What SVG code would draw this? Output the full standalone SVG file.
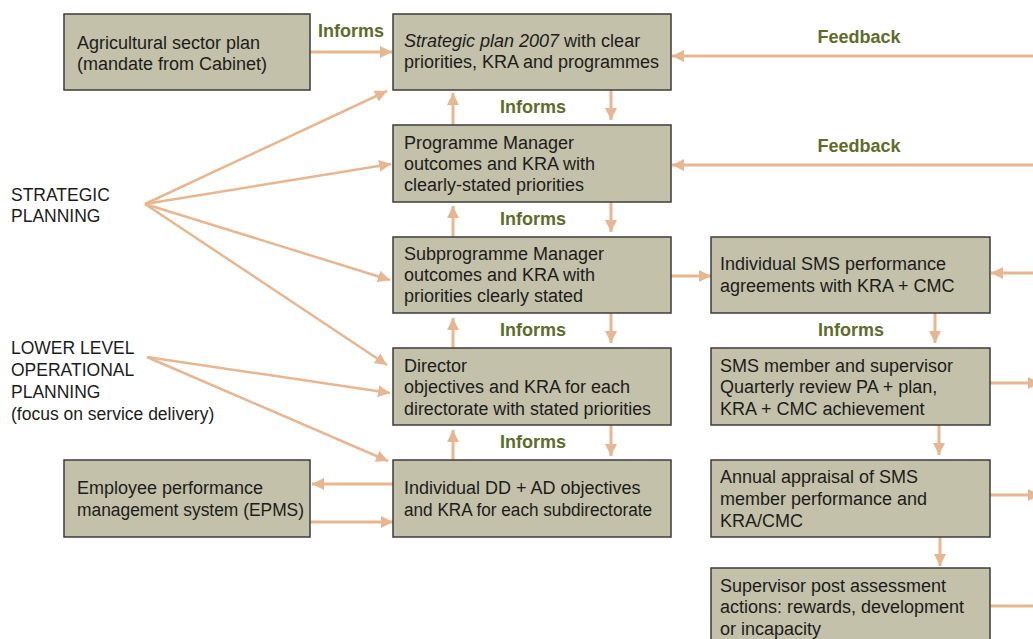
<svg xmlns="http://www.w3.org/2000/svg" width="1033" height="639" viewBox="0 0 1033 639">
<style>
.box{fill:#c3c1a9;stroke:#3c3c3a;stroke-width:1.5}
.t{font-family:"Liberation Sans",Arial,sans-serif;font-size:18px;fill:#1c1c1c}
.lbl{font-family:"Liberation Sans",Arial,sans-serif;font-size:18px;font-weight:bold;fill:#606b2c}
.side{font-family:"Liberation Sans",Arial,sans-serif;font-size:17.5px;fill:#1c1c1c}
.c{stroke:#e8b690;stroke-width:3;fill:none}
.f{stroke:#e8b690;stroke-width:2.5;fill:none}
</style>
<defs>
<marker id="ah" markerUnits="userSpaceOnUse" markerWidth="14" markerHeight="14" refX="12" refY="6" orient="auto">
<path d="M0,0 L12,6 L0,12 z" fill="#e8b690"/>
</marker>
</defs>
<rect width="1033" height="639" fill="#ffffff"/>

<g id="connectors">
<line class="c" x1="310" y1="52" x2="392" y2="52" marker-end="url(#ah)"/>
<line class="c" x1="1033" y1="56" x2="672" y2="56" marker-end="url(#ah)"/>
<line class="c" x1="1033" y1="165" x2="672" y2="165" marker-end="url(#ah)"/>
<line class="c" x1="453" y1="125" x2="453" y2="93" marker-end="url(#ah)"/>
<line class="c" x1="611" y1="90" x2="611" y2="120" marker-end="url(#ah)"/>
<line class="c" x1="453" y1="237" x2="453" y2="206" marker-end="url(#ah)"/>
<line class="c" x1="611" y1="202" x2="611" y2="232" marker-end="url(#ah)"/>
<line class="c" x1="453" y1="348" x2="453" y2="318" marker-end="url(#ah)"/>
<line class="c" x1="611" y1="313" x2="611" y2="343" marker-end="url(#ah)"/>
<line class="c" x1="453" y1="460" x2="453" y2="430" marker-end="url(#ah)"/>
<line class="c" x1="611" y1="425" x2="611" y2="456" marker-end="url(#ah)"/>
<line class="c" x1="671" y1="276" x2="711" y2="276" marker-end="url(#ah)"/>
<line class="c" x1="1033" y1="273" x2="991" y2="273" marker-end="url(#ah)"/>
<line class="c" x1="935" y1="313" x2="935" y2="343" marker-end="url(#ah)"/>
<line class="c" x1="939" y1="425" x2="939" y2="455" marker-end="url(#ah)"/>
<line class="c" x1="940" y1="537" x2="940" y2="566" marker-end="url(#ah)"/>
<line class="c" x1="990" y1="383" x2="1040" y2="383" marker-end="url(#ah)"/>
<line class="c" x1="990" y1="495" x2="1040" y2="495" marker-end="url(#ah)"/>
<line class="c" x1="990" y1="606" x2="1050" y2="606" marker-end="url(#ah)"/>
<line class="c" x1="393" y1="484" x2="312" y2="484" marker-end="url(#ah)"/>
<line class="c" x1="310" y1="522" x2="393" y2="522" marker-end="url(#ah)"/>
<line class="f" x1="145" y1="204" x2="387" y2="91" marker-end="url(#ah)"/>
<line class="f" x1="145" y1="204" x2="391" y2="164" marker-end="url(#ah)"/>
<line class="f" x1="145" y1="204" x2="390" y2="280" marker-end="url(#ah)"/>
<line class="f" x1="145" y1="204" x2="387" y2="365" marker-end="url(#ah)"/>
<line class="f" x1="147" y1="357" x2="390" y2="393" marker-end="url(#ah)"/>
<line class="f" x1="147" y1="357" x2="388" y2="461" marker-end="url(#ah)"/>
<text class="lbl" x="318" y="37">Informs</text>
<text class="lbl" x="859" y="43" text-anchor="middle">Feedback</text>
<text class="lbl" x="859" y="152" text-anchor="middle">Feedback</text>
<text class="lbl" x="533" y="113" text-anchor="middle">Informs</text>
<text class="lbl" x="533" y="225" text-anchor="middle">Informs</text>
<text class="lbl" x="533" y="336" text-anchor="middle">Informs</text>
<text class="lbl" x="533" y="448" text-anchor="middle">Informs</text>
<text class="lbl" x="851" y="336" text-anchor="middle">Informs</text>
</g>

<g id="label-strategic">
<text class="side" x="11" y="201">STRATEGIC</text>
<text class="side" x="11" y="222">PLANNING</text>
</g>
<g id="label-operational">
<text class="side" x="11" y="354">LOWER LEVEL</text>
<text class="side" x="11" y="376">OPERATIONAL</text>
<text class="side" x="11" y="398">PLANNING</text>
<text class="side" x="11" y="420">(focus on service delivery)</text>
</g>

<g id="agri">
<rect class="box" x="64" y="14" width="246" height="76"/>
<text class="t" x="77" y="49">Agricultural sector plan</text>
<text class="t" x="77" y="70">(mandate from Cabinet)</text>
</g>
<g id="strategic-plan">
<rect class="box" x="393" y="14" width="278" height="76"/>
<text class="t" x="404" y="47"><tspan font-style="italic">Strategic plan 2007</tspan> with clear</text>
<text class="t" x="404" y="68">priorities, KRA and programmes</text>
</g>
<g id="programme">
<rect class="box" x="393" y="125" width="278" height="77"/>
<text class="t" x="404" y="149">Programme Manager</text>
<text class="t" x="404" y="170">outcomes and KRA with</text>
<text class="t" x="404" y="191">clearly-stated priorities</text>
</g>
<g id="subprogramme">
<rect class="box" x="393" y="237" width="278" height="76"/>
<text class="t" x="404" y="260">Subprogramme Manager</text>
<text class="t" x="404" y="281">outcomes and KRA with</text>
<text class="t" x="404" y="302">priorities clearly stated</text>
</g>
<g id="director">
<rect class="box" x="393" y="348" width="278" height="77"/>
<text class="t" x="404" y="372">Director</text>
<text class="t" x="404" y="393">objectives and KRA for each</text>
<text class="t" x="404" y="415" textLength="247" lengthAdjust="spacingAndGlyphs">directorate with stated priorities</text>
</g>
<g id="individual-dd">
<rect class="box" x="393" y="460" width="278" height="77"/>
<text class="t" x="404" y="494">Individual DD + AD objectives</text>
<text class="t" x="404" y="516" textLength="248" lengthAdjust="spacingAndGlyphs">and KRA for each subdirectorate</text>
</g>
<g id="epms">
<rect class="box" x="64" y="460" width="246" height="77"/>
<text class="t" x="77" y="494">Employee performance</text>
<text class="t" x="77" y="516" textLength="227" lengthAdjust="spacingAndGlyphs">management system (EPMS)</text>
</g>
<g id="sms-agreements">
<rect class="box" x="711" y="237" width="279" height="76"/>
<text class="t" x="720" y="270">Individual SMS performance</text>
<text class="t" x="720" y="292">agreements with KRA + CMC</text>
</g>
<g id="sms-review">
<rect class="box" x="711" y="348" width="279" height="77"/>
<text class="t" x="720" y="372">SMS member and supervisor</text>
<text class="t" x="720" y="393">Quarterly review PA + plan,</text>
<text class="t" x="720" y="415">KRA + CMC achievement</text>
</g>
<g id="annual-appraisal">
<rect class="box" x="711" y="460" width="279" height="77"/>
<text class="t" x="720" y="483">Annual appraisal of SMS</text>
<text class="t" x="720" y="505">member performance and</text>
<text class="t" x="720" y="527">KRA/CMC</text>
</g>
<g id="post-assessment">
<rect class="box" x="711" y="568" width="279" height="80"/>
<text class="t" x="720" y="592">Supervisor post assessment</text>
<text class="t" x="720" y="613">actions: rewards, development</text>
<text class="t" x="720" y="635">or incapacity</text>
</g>
</svg>
